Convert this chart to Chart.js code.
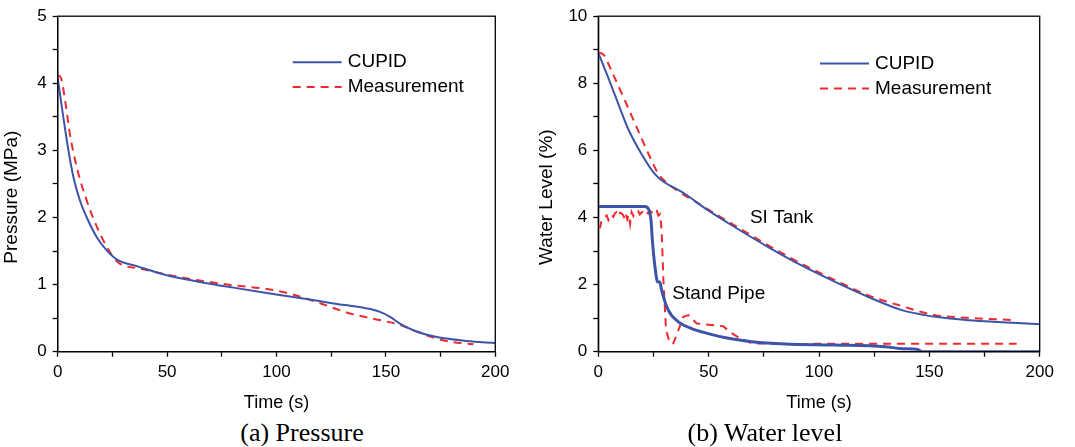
<!DOCTYPE html>
<html>
<head>
<meta charset="utf-8">
<script src="https://cdn.jsdelivr.net/npm/chart.js@4/dist/chart.umd.min.js"></script>
<style>
  body { margin: 0; background: #fff; width: 1075px; height: 447px; position: relative; overflow: hidden; }
  .box { position: absolute; top: 0; width: 540px; height: 415px; }
  .cap { position: absolute; top: 415px; font-family: "Liberation Serif", "Times New Roman", serif; font-size: 26px; color: #000; text-align: center; width: 300px; line-height: 36px; }
</style>
</head>
<body>
<div class="box" style="left:0"><canvas id="pressureChart" width="540" height="415"></canvas></div>
<div class="box" style="left:535px"><canvas id="levelChart" width="540" height="415"></canvas></div>
<div class="cap" style="left:152px">(a) Pressure</div>
<div class="cap" style="left:615px">(b) Water level</div>
<script>
// (a) pressure, MPa
const pCupidT = [0, 2.6, 4.9, 7.2, 10.2, 13.3, 17.8, 22.4, 27.7, 34.6, 49.8, 65, 80.3, 95.5, 110.7, 126, 141.2, 147.3, 151.9, 156.4, 162.5, 171.7, 186.9, 200];
const pCupid  = [4.08, 3.49, 3.0, 2.6, 2.25, 2.0, 1.71, 1.51, 1.36, 1.29, 1.14, 1.04, 0.955, 0.876, 0.80, 0.72, 0.645, 0.594, 0.52, 0.42, 0.32, 0.23, 0.16, 0.13];
const pMeasT  = [0, 1.5, 3.4, 5.6, 8.7, 13.3, 19.3, 25.4, 28.5, 37.6, 49.8, 65, 80.3, 95.5, 106, 118.4, 133.6, 148.8, 156.4, 164, 171.7, 179.3, 190];
const pMeas   = [4.12, 4.08, 3.74, 3.24, 2.75, 2.25, 1.76, 1.41, 1.31, 1.24, 1.15, 1.06, 0.99, 0.935, 0.866, 0.74, 0.57, 0.46, 0.40, 0.30, 0.21, 0.15, 0.11];

// (b) water level, %
const siCupidT = [0, 4.5, 9.1, 13.6, 19.6, 24.9, 27.9, 39.3, 49.8, 61.9, 77, 92.1, 107.3, 122.4, 137.5, 148, 152.6, 167.7, 182.8, 200];
const siCupid  = [8.91, 8.17, 7.38, 6.63, 5.89, 5.35, 5.15, 4.70, 4.21, 3.71, 3.12, 2.57, 2.08, 1.63, 1.24, 1.09, 1.04, 0.94, 0.88, 0.82];
const siMeasT  = [0, 2.3, 6, 12.1, 18.1, 24.2, 27.2, 31.7, 46.8, 61.9, 77, 92.1, 107.3, 122.4, 137.5, 152.6, 167.7, 188.8];
const siMeas   = [8.91, 8.86, 8.37, 7.48, 6.58, 5.69, 5.30, 5.0, 4.36, 3.76, 3.17, 2.62, 2.13, 1.68, 1.36, 1.09, 1.01, 0.94];
const spCupidT = [0, 21.1, 22.7, 23.9, 24.5, 25.7, 26.9, 27.9, 28.7, 31.7, 36.3, 42.3, 49.8, 58.9, 69.5, 84.6, 107.3, 129.9, 137.5, 145, 146.5, 200];
const spCupid  = [4.33, 4.33, 4.26, 3.91, 3.32, 2.52, 2.08, 2.08, 1.83, 1.24, 0.89, 0.69, 0.54, 0.40, 0.30, 0.23, 0.20, 0.15, 0.09, 0.06, 0, 0];
const spMeasT  = [0, 0.8, 1.5, 2.4, 3.1, 3.8, 4.6, 5.3, 6.1, 6.8, 7.6, 8.3, 9.1, 9.8, 10.8, 11.6, 12.3, 13.1, 13.8, 14.4, 15.1, 15.9, 16.6, 17.3, 18.1, 18.8, 19.6, 20.3, 21.1, 21.8, 22.6, 23.3, 24.1, 24.8, 25.6, 26.5, 27.2, 28.0, 28.7, 29.5, 30.7, 32.5, 34.0, 36.3, 38.5, 40.8, 44.6, 56.6, 59.6, 64.2, 69.5, 84.6, 120, 160, 189.6];
const spMeas   = [3.72, 3.71, 3.91, 3.95, 4.02, 4.06, 3.92, 3.99, 4.08, 4.02, 4.13, 4.16, 4.05, 4.14, 4.11, 4.02, 4.15, 3.95, 4.08, 3.81, 4.16, 4.04, 4.12, 4.11, 4.18, 4.09, 4.15, 4.16, 4.10, 4.17, 4.12, 4.19, 4.16, 4.10, 4.18, 4.20, 4.06, 4.10, 3.61, 2.13, 0.64, 0.25, 0.25, 0.64, 1.04, 1.09, 0.84, 0.76, 0.59, 0.40, 0.25, 0.23, 0.24, 0.24, 0.24];

const BLUE = '#3d55a8';
const RED = '#ee2a2f';
const FONT = '"Liberation Sans", Arial, sans-serif';
const PAD = '\u00a0\u00a0\u00a0\u00a0\u00a0'; // pushes the y title a little lower, as in the original

function pts(xs, ys) { return xs.map((x, i) => ({ x: x, y: ys[i] })); }

// box round the plot area
const frame = {
  id: 'frame',
  afterDraw(chart) {
    const a = chart.chartArea, c = chart.ctx;
    c.save();
    c.strokeStyle = '#000';
    c.lineWidth = 1.3;
    c.strokeRect(a.left, a.top, a.right - a.left, a.bottom - a.top);
    c.restore();
  }
};

// legend drawn inside the plot, plus free text notes
const inside = {
  id: 'inside',
  afterDatasetsDraw(chart, args, opts) {
    const a = chart.chartArea, c = chart.ctx;
    c.save();
    c.font = '19px ' + FONT;
    c.fillStyle = '#000';
    c.textBaseline = 'middle';
    (opts.items || []).forEach((idx, i) => {
      const ds = chart.data.datasets[idx];
      const y = a.top + opts.y + i * opts.gap;
      const x0 = a.left + opts.x;
      c.strokeStyle = ds.borderColor;
      c.lineWidth = 2;
      c.setLineDash(ds.borderDash || []);
      c.beginPath();
      c.moveTo(x0, y);
      c.lineTo(x0 + 49, y);
      c.stroke();
      c.setLineDash([]);
      c.fillText(ds.label, x0 + 55, y);
    });
    const xs = chart.scales.x, ys = chart.scales.y;
    (opts.notes || []).forEach(n => {
      c.fillText(n.text, xs.getPixelForValue(n.x), ys.getPixelForValue(n.y));
    });
    c.restore();
  }
};

function axes(yMax, yStep, yMajor, yTitle, yWidth) {
  const grid = { drawOnChartArea: false, drawTicks: true, tickLength: 5, color: '#000', tickWidth: 1.3 };
  const border = { color: '#000', width: 1.3 };
  return {
    x: {
      type: 'linear', min: 0, max: 200,
      grid: grid, border: border,
      ticks: {
        stepSize: 25, autoSkip: false, maxRotation: 0, padding: 5, color: '#000',
        font: { family: FONT, size: 17 },
        callback: v => (v % 50 === 0 ? v : '')
      },
      title: { display: true, text: 'Time (s)', color: '#000', font: { family: FONT, size: 18 }, padding: { top: 4, bottom: 1 } },
      afterFit: s => { s.height = 63.3; }
    },
    y: {
      min: 0, max: yMax,
      grid: grid, border: border,
      ticks: {
        stepSize: yStep, autoSkip: false, padding: 6, color: '#000',
        font: { family: FONT, size: 17 },
        callback: v => (Math.abs(v / yMajor - Math.round(v / yMajor)) < 1e-6 ? v : '')
      },
      title: { display: true, text: yTitle + PAD, color: '#000', font: { family: FONT, size: 19 }, padding: { top: 0, bottom: 0 } },
      afterFit: s => { s.width = yWidth; }
    }
  };
}

new Chart(document.getElementById('pressureChart'), {
  type: 'line',
  data: {
    datasets: [
      { label: 'CUPID', data: pts(pCupidT, pCupid), borderColor: BLUE, borderWidth: 2, cubicInterpolationMode: 'monotone' },
      { label: 'Measurement', data: pts(pMeasT, pMeas), borderColor: RED, borderWidth: 2, borderDash: [8, 6], cubicInterpolationMode: 'monotone' }
    ]
  },
  options: {
    responsive: false, animation: false,
    layout: { padding: { top: 15, right: 44.7, left: 0, bottom: 0 } },
    elements: { point: { radius: 0 } },
    plugins: {
      legend: { display: false }, tooltip: { enabled: false },
      inside: { items: [0, 1], x: 235, y: 46, gap: 24.7 }
    },
    scales: axes(5, 0.5, 1, 'Pressure (MPa)', 57.7)
  },
  plugins: [frame, inside]
});

new Chart(document.getElementById('levelChart'), {
  type: 'line',
  data: {
    datasets: [
      { label: 'CUPID', data: pts(siCupidT, siCupid), borderColor: BLUE, borderWidth: 2, cubicInterpolationMode: 'monotone' },
      { label: 'Measurement', data: pts(siMeasT, siMeas), borderColor: RED, borderWidth: 2, borderDash: [8, 6], cubicInterpolationMode: 'monotone' },
      { label: 'CUPID stand pipe', data: pts(spCupidT, spCupid), borderColor: BLUE, borderWidth: 3, cubicInterpolationMode: 'monotone' },
      { label: 'Measurement stand pipe', data: pts(spMeasT, spMeas), borderColor: RED, borderWidth: 2, borderDash: [8, 6] }
    ]
  },
  options: {
    responsive: false, animation: false,
    layout: { padding: { top: 15, right: 35.3, left: 0, bottom: 0 } },
    elements: { point: { radius: 0 } },
    plugins: {
      legend: { display: false }, tooltip: { enabled: false },
      inside: {
        items: [0, 1], x: 221.7, y: 47.3, gap: 25,
        notes: [{ text: 'SI Tank', x: 68.7, y: 4.0 }, { text: 'Stand Pipe', x: 33.5, y: 1.73 }]
      }
    },
    scales: axes(10, 1, 2, 'Water Level (%)', 63.3)
  },
  plugins: [frame, inside]
});
</script>
</body>
</html>
